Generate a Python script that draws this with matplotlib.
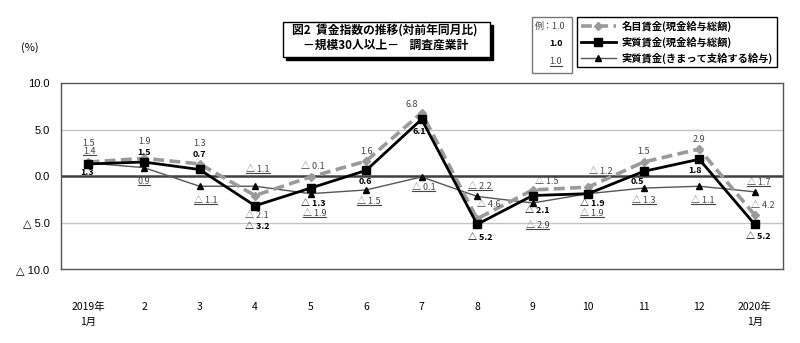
import matplotlib
matplotlib.use("Agg")
import matplotlib.pyplot as plt
from matplotlib.lines import Line2D
from matplotlib.patches import Rectangle

plt.rcParams["font.family"] = ["Noto Sans CJK JP", "DejaVu Sans"]

months = ["2019年\n1月", "2", "3", "4", "5", "6", "7", "8", "9", "10", "11", "12", "2020年\n1月"]
nominal = [1.5, 1.9, 1.3, -2.1, -0.1, 1.6, 6.8, -4.6, -1.5, -1.2, 1.5, 2.9, -4.2]
real = [1.3, 1.5, 0.7, -3.2, -1.3, 0.6, 6.1, -5.2, -2.1, -1.9, 0.5, 1.8, -5.2]
scheduled = [1.4, 0.9, -1.1, -1.1, -1.9, -1.5, -0.1, -2.2, -2.9, -1.9, -1.3, -1.1, -1.7]
series_names = ["名目賃金(現金給与総額)", "実質賃金(現金給与総額)", "実質賃金(きまって支給する給与)"]
y_ticks = [10, 5, 0, -5, -10]

# label offsets in pixels (dx, dy) from each point
nominal_offsets = [(0, 19), (0, 17), (0, 20), (2, -20), (2, 10), (0, 10), (-10, 8), (12, 14),
                   (14, 8), (13, 16), (0, 11), (0, 10), (8, 10)]
real_offsets = [(-1, -9), (0, 10), (0, 15), (2, -21), (3, -15), (-1, -11), (-2, -12), (3, -13),
                (5, -15), (4, -10), (-6, -10), (-4, -11), (4, -12)]
sched_offsets = [(1, 11), (0, -14), (6, -14), (3, 17), (4, -20), (3, -12), (2, -11), (3, 10),
                 (5, -23), (4, -20), (0, -12), (4, -14), (4, 9)]


def fmt(v):
    return f"△ {abs(v):.1f}" if v < 0 else f"{v:.1f}"


W, H = 800, 343
fig = plt.figure(figsize=(8, 3.43), dpi=100)
ax = fig.add_axes([60.7 / W, 1 - 269 / H, (782.5 - 60.7) / W, (269 - 83) / H])

x = list(range(len(months)))
ax.axhline(5, color="#c4c4c4", lw=1, zorder=1)
ax.axhline(-5, color="#c4c4c4", lw=1, zorder=1)
ax.axhline(0, color="#404040", lw=1.8, zorder=1)

l3, = ax.plot(x, scheduled, color="#555555", lw=1, marker="^", ms=5,
              mfc="black", mec="black", zorder=3)
l1, = ax.plot(x, nominal, color="#9a9a9a", lw=2.6, ls=(0, (3, 1.5)), marker="D", ms=4.5,
              mfc="#9a9a9a", mec="#9a9a9a", zorder=4)
l2, = ax.plot(x, real, color="black", lw=2, marker="s", ms=6, zorder=5)

ax.set_xlim(-0.5, 12.5)
ax.set_ylim(-10, 10)
ax.set_yticks(y_ticks)
ax.set_yticklabels([fmt(v) for v in y_ticks], family=["Liberation Sans", "DejaVu Sans"], fontsize=8)
ax.set_xticks(x)
ax.set_xticklabels(months, fontsize=7.5, linespacing=1.6)
ax.tick_params(axis="y", length=0, pad=8)
ax.tick_params(axis="x", length=0, pad=24)
for s in ax.spines.values():
    s.set_color("#555555")
    s.set_linewidth(1)

underlined = []
for i in x:
    ax.annotate(fmt(nominal[i]), (i, nominal[i]), xytext=nominal_offsets[i], textcoords="offset pixels",
                ha="center", va="center", fontsize=6.5, color="#444444", zorder=6)
    ax.annotate(fmt(real[i]), (i, real[i]), xytext=real_offsets[i], textcoords="offset pixels",
                ha="center", va="center", fontsize=6.5, color="black", fontweight="bold", zorder=6)
    t = ax.annotate(fmt(scheduled[i]), (i, scheduled[i]), xytext=sched_offsets[i], textcoords="offset pixels",
                    ha="center", va="center", fontsize=6.5, color="#444444", zorder=6)
    underlined.append(t)

fig.text(30 / W, 1 - 48 / H, "(%)", fontsize=8, ha="center", va="center")

# title box with shadow
fig.add_artist(Rectangle((286 / W, 1 - 60 / H), (490 - 283) / W, (57 - 22) / H,
                         transform=fig.transFigure, facecolor="black", edgecolor="black", zorder=8))
fig.add_artist(Rectangle((283 / W, 1 - 57 / H), (490 - 283) / W, (57 - 22) / H,
                         transform=fig.transFigure, facecolor="white", edgecolor="black", lw=1, zorder=9))
fig.text(385 / W, 1 - 30 / H, "図2  賃金指数の推移(対前年同月比)", fontsize=8.5, fontweight="bold",
         ha="center", va="center", zorder=10)
fig.text(386 / W, 1 - 45 / H, "－規模30人以上－    調査産業計", fontsize=8.5, fontweight="bold",
         ha="center", va="center", zorder=10)

# example box
fig.add_artist(Rectangle((532 / W, 1 - 73 / H), 40 / W, 56 / H, transform=fig.transFigure,
                         facecolor="white", edgecolor="#777777", lw=1, zorder=8))
fig.text(550 / W, 1 - 26 / H, "例：1.0", fontsize=6.5, ha="center", va="center", color="#444444", zorder=9)
fig.text(556 / W, 1 - 43 / H, "1.0", fontsize=6.5, ha="center", va="center", fontweight="bold", zorder=9)
ex = fig.text(556 / W, 1 - 62 / H, "1.0", fontsize=6.5, ha="center", va="center", color="#444444", zorder=9)
underlined.append(ex)

leg = fig.legend([l1, l2, l3], series_names, loc="upper left", bbox_to_anchor=(577 / W, 1 - 17 / H),
                 borderaxespad=0, fancybox=False, edgecolor="black", framealpha=1,
                 handlelength=3.4, labelspacing=0.45, borderpad=0.35, handletextpad=0.6,
                 prop={"weight": "bold", "size": 7.4})
leg.get_frame().set_linewidth(1)
leg.set_zorder(10)

fig.canvas.draw()
inv = fig.transFigure.inverted()
for t in underlined:
    bb = t.get_window_extent()
    (x0, y0), (x1, _) = inv.transform([(bb.x0, bb.y0 + 1), (bb.x1, bb.y0 + 1)])
    fig.add_artist(Line2D([x0, x1], [y0, y0], transform=fig.transFigure, color="#444444", lw=0.8, zorder=11))

fig.savefig("out.png", dpi=100, facecolor="white")
